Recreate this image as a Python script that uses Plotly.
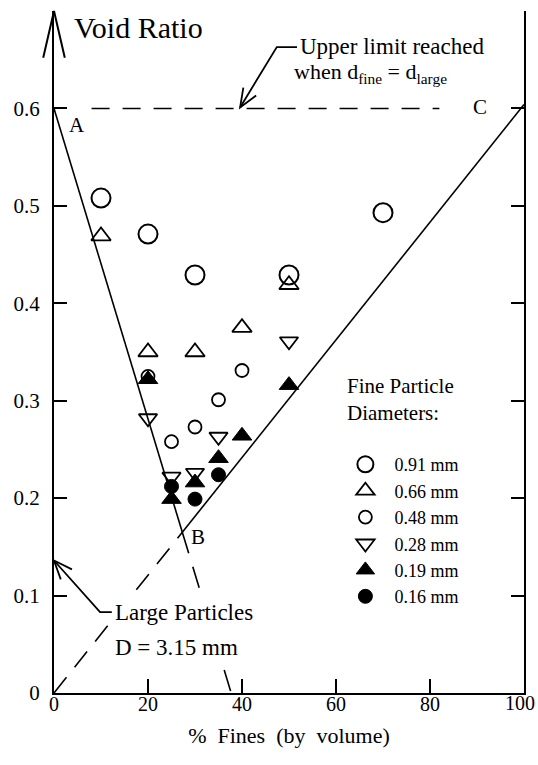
import math
import plotly.graph_objects as go

# ---------------- data ----------------
series_names = ["0.91 mm", "0.66 mm", "0.48 mm", "0.28 mm", "0.19 mm", "0.16 mm"]

x_091 = [10, 20, 30, 50, 70]
y_091 = [0.508, 0.471, 0.429, 0.429, 0.493]

x_066 = [10, 20, 30, 40, 50]
y_066 = [0.469, 0.350, 0.350, 0.375, 0.419]

x_048 = [20, 25, 30, 35, 40]
y_048 = [0.325, 0.258, 0.273, 0.301, 0.331]

x_028 = [20, 25, 30, 35, 50]
y_028 = [0.282, 0.222, 0.226, 0.263, 0.361]

x_019 = [20, 25, 30, 35, 40, 50]
y_019 = [0.322, 0.199, 0.216, 0.241, 0.264, 0.316]

x_016 = [25, 30, 35]
y_016 = [0.212, 0.199, 0.224]

# boundary lines (A-B, B-C, O-B, B-extension, upper limit)
ab_x, ab_y = [0, 27.3], [0.60, 0.165]
bc_x, bc_y = [27.3, 100], [0.165, 0.604]
ob_x, ob_y = [0, 27.3], [0.0, 0.165]
bext_x, bext_y = [27.3, 37.7], [0.165, 0.0]
upper_x, upper_y = [8, 82], [0.60, 0.60]

x_ticks = [0, 20, 40, 60, 80]
x_tick_text = ["0", "20", "40", "60", "80"]
x_last_tick, x_last_text = 100, "100"
y_ticks = [0, 0.1, 0.2, 0.3, 0.4, 0.5, 0.6]
y_tick_text = ["0", "0.1", "0.2", "0.3", "0.4", "0.5", "0.6"]

# ---------------- layout geometry ----------------
W, H = 538, 765
ML, MR, MT, MB = 54, 14, 11, 72
XR = [0, 100]
YR = [0, 0.70]
PX_X = (W - ML - MR) / (XR[1] - XR[0])
PX_Y = (H - MT - MB) / (YR[1] - YR[0])

FONT = "Liberation Serif"
BLACK = "black"


def to_paper(x, y):
    return (x - XR[0]) / (XR[1] - XR[0]), (y - YR[0]) / (YR[1] - YR[0])


def poly_path(pts):
    pp = [to_paper(*p) for p in pts]
    return "M" + " L".join(f"{a:.5f},{b:.5f}" for a, b in pp)


def chevron(tx, ty, fx, fy, length=16, half=25):
    dx = (fx - tx) * PX_X
    dy = (fy - ty) * PX_Y
    n = math.hypot(dx, dy)
    dx, dy = dx / n, dy / n
    arms = []
    for s in (1, -1):
        a = math.radians(half * s)
        rx = dx * math.cos(a) - dy * math.sin(a)
        ry = dx * math.sin(a) + dy * math.cos(a)
        arms.append((tx + rx * length / PX_X, ty + ry * length / PX_Y))
    return poly_path([arms[0], (tx, ty), arms[1]])


fig = go.Figure()

for xs, ys, dash in [
    (ab_x, ab_y, "solid"),
    (bc_x, bc_y, "solid"),
    (ob_x, ob_y, "20px,13px"),
    (bext_x, bext_y, "22px,14px"),
    (upper_x, upper_y, "18px,13px"),
]:
    fig.add_trace(go.Scatter(x=xs, y=ys, mode="lines",
                             line=dict(color=BLACK, width=1.6, dash=dash),
                             showlegend=False, hoverinfo="skip", cliponaxis=False))

marker_specs = [
    (x_091, y_091, "circle-open", 19, 2.0),
    (x_066, y_066, "triangle-up-open", 17, 1.8),
    (x_048, y_048, "circle-open", 13, 1.8),
    (x_028, y_028, "triangle-down-open", 16, 1.8),
    (x_019, y_019, "triangle-up", 17, 1.0),
    (x_016, y_016, "circle", 14, 1.0),
]
for name, (xs, ys, sym, size, lw) in zip(series_names, marker_specs):
    fig.add_trace(go.Scatter(
        x=xs, y=ys, mode="markers", name="\u00a0\u00a0" + name,
        marker=dict(symbol=sym, size=size, color=BLACK,
                    line=dict(color=BLACK, width=lw)),
        cliponaxis=False,
    ))

shapes = []
pstyle = dict(type="path", xref="paper", yref="paper", layer="above")
# y-axis arrow head
shapes.append(dict(**pstyle, path=chevron(0, 0.70, 0, 0.0, length=48, half=13),
                   line=dict(color=BLACK, width=2)))
# upper-limit leader
up_pts = [(51.7, 0.663), (47.4, 0.663), (39.6, 0.601)]
shapes.append(dict(**pstyle, path=poly_path(up_pts), line=dict(color=BLACK, width=1.8)))
shapes.append(dict(**pstyle, path=chevron(*up_pts[2], *up_pts[1], length=20, half=22),
                   line=dict(color=BLACK, width=1.8)))
# large particles leader
lp_pts = [(12.3, 0.083), (9.8, 0.083), (0.0, 0.136)]
shapes.append(dict(**pstyle, path=poly_path(lp_pts), line=dict(color=BLACK, width=1.8)))
shapes.append(dict(**pstyle, path=chevron(*lp_pts[2], *lp_pts[1], length=20, half=22),
                   line=dict(color=BLACK, width=1.8)))

annotations = [
    dict(x=3.9, y=0.683, xref="x", yref="y", text="Void Ratio", showarrow=False,
         xanchor="left", yanchor="middle", font=dict(family=FONT, size=30, color=BLACK)),
    dict(x=51.9, y=0.664, xref="x", yref="y", text="Upper limit reached", showarrow=False,
         xanchor="left", yanchor="middle", font=dict(family=FONT, size=23, color=BLACK)),
    dict(x=50.6, y=0.636, xref="x", yref="y",
         text="when d<sub>fine</sub> = d<sub>large</sub>", showarrow=False,
         xanchor="left", yanchor="middle", font=dict(family=FONT, size=22, color=BLACK)),
    dict(x=4.8, y=0.583, xref="x", yref="y", text="A", showarrow=False,
         font=dict(family=FONT, size=21, color=BLACK)),
    dict(x=30.6, y=0.160, xref="x", yref="y", text="B", showarrow=False,
         font=dict(family=FONT, size=21, color=BLACK)),
    dict(x=90.6, y=0.601, xref="x", yref="y", text="C", showarrow=False,
         font=dict(family=FONT, size=21, color=BLACK)),
    dict(x=12.3, y=0.083, xref="x", yref="y", text="Large Particles", showarrow=False,
         xanchor="left", yanchor="middle", bgcolor="white", borderpad=2,
         font=dict(family=FONT, size=23, color=BLACK)),
    dict(x=12.3, y=0.047, xref="x", yref="y", text="D = 3.15 mm", showarrow=False,
         xanchor="left", yanchor="middle", bgcolor="white", borderpad=2,
         font=dict(family=FONT, size=23, color=BLACK)),
    dict(x=62.0, y=0.301, xref="x", yref="y", text="Fine Particle<br>Diameters:",
         showarrow=False, xanchor="left", yanchor="middle", align="left",
         font=dict(family=FONT, size=21, color=BLACK)),
    # last x tick label, nudged inside the page edge
    dict(x=x_last_tick, y=0, xref="x", yref="y", text=x_last_text, showarrow=False,
         xanchor="right", yanchor="top", xshift=13, yshift=3,
         font=dict(family=FONT, size=20, color=BLACK)),
]

fig.update_layout(
    width=W, height=H,
    margin=dict(l=ML, r=MR, t=MT, b=MB, pad=0, autoexpand=False),
    paper_bgcolor="white", plot_bgcolor="white",
    font=dict(family=FONT, size=21, color=BLACK),
    shapes=shapes,
    annotations=annotations,
    showlegend=True,
    legend=dict(x=0.62, y=0.362, xanchor="left", yanchor="top",
                bgcolor="rgba(0,0,0,0)", borderwidth=0,
                font=dict(family=FONT, size=18, color=BLACK),
                itemsizing="trace", tracegroupgap=0),
    xaxis=dict(range=XR, tickvals=x_ticks, ticktext=x_tick_text,
               ticks="inside", ticklen=14, tickwidth=2, tickcolor=BLACK,
               showline=True, linecolor=BLACK, linewidth=2, mirror=False,
               showgrid=False, zeroline=False,
               ticklabelstandoff=-8, automargin=False,
               tickfont=dict(family=FONT, size=20, color=BLACK),
               title=dict(text="%\u00a0\u00a0Fines\u00a0\u00a0(by\u00a0\u00a0volume)",
                          font=dict(family=FONT, size=22, color=BLACK), standoff=14)),
    yaxis=dict(range=YR, tickvals=y_ticks, ticktext=y_tick_text,
               ticks="inside", ticklen=13, tickwidth=2, tickcolor=BLACK,
               showline=True, linecolor=BLACK, linewidth=2, mirror="ticks",
               showgrid=False, zeroline=False, ticklabelstandoff=8, automargin=False,
               tickfont=dict(family=FONT, size=21, color=BLACK)),
)

fig.write_html("out.html")
